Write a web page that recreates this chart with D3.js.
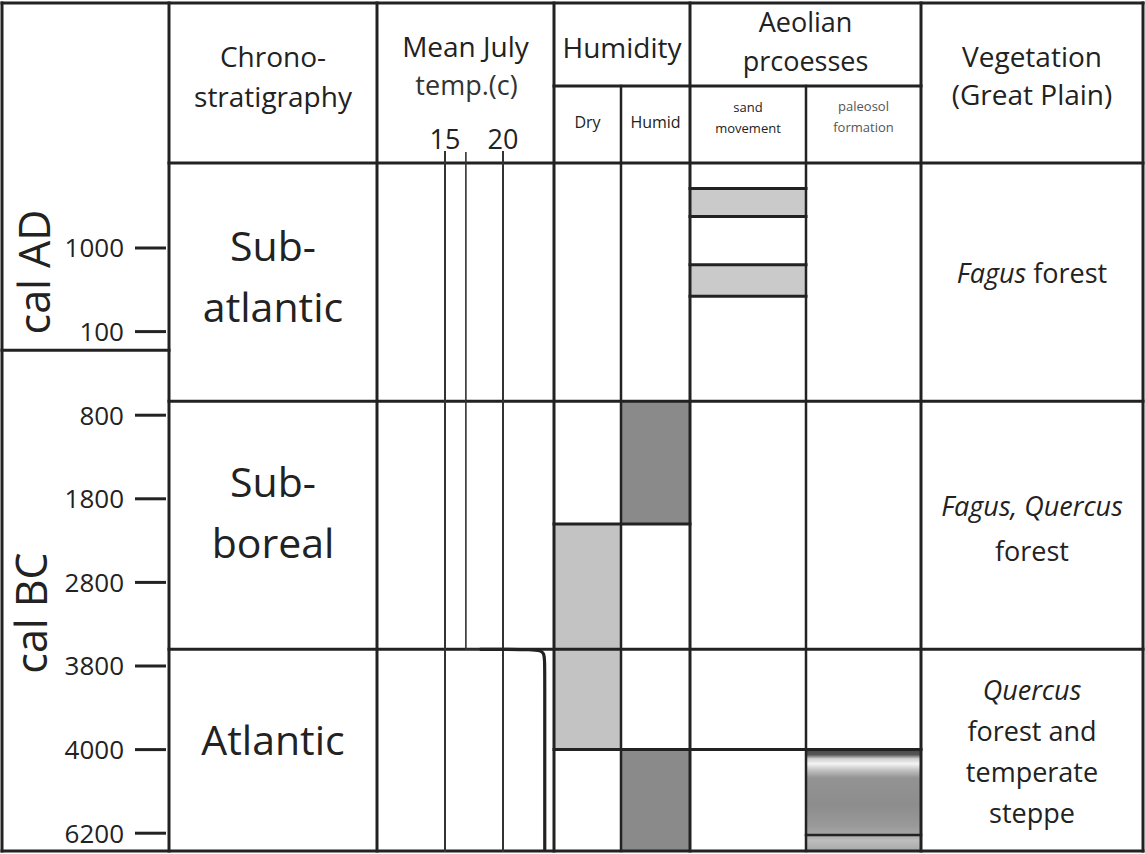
<!DOCTYPE html>
<html><head><meta charset="utf-8">
<script src="https://cdn.jsdelivr.net/npm/d3@7"></script>
<style>
body{margin:0;background:#fff}
svg{display:block}
text{font-family:"Open Sans","Noto Sans",sans-serif;fill:#222}
</style>
</head><body>
<svg id="c" width="1145" height="854"></svg>
<script>
// ---------------- data ----------------
const tickLabels = ["1000","100","800","1800","2800","3800","4000","6200"];
const tickYears  = [1000, 100, -800, -1800, -2800, -3800, -4000, -6200];   // AD positive, BC negative
const eras = [
  {label:"cal AD", from:1920, to:-100},
  {label:"cal BC", from:-100, to:-6660}
];
const periods = [
  {lines:["Sub-","atlantic"], from:1920,  to:-650},
  {lines:["Sub-","boreal"],   from:-650,  to:-3600},
  {lines:["Atlantic"],        from:-3600, to:-6660}
];
const dryIntervals   = [{from:-2100, to:-4000}];
const humidIntervals = [{from:-650, to:-2100}, {from:-4000, to:-6660}];
const sandMovement   = [{from:1640, to:1340}, {from:820, to:480}];
const paleosolFormation = [{from:-4000, to:-6660}];
const paleosolBreaks = [-6250];
const tempTicks = [15, 20];
const julyTempEarly = [{year:1920,t:16.8},{year:-3600,t:16.8},{year:-3600,t:18.0}];
const julyTempLate  = [{year:-3600,t:18.0},{year:-3600,t:22.9},{year:-3630,t:23.6},{year:-3800,t:23.6},{year:-6660,t:23.6}];
const vegetation = [
  {from:1920,  to:-650,  lines:[[{t:"Fagus",i:true},{t:" forest"}]]},
  {from:-650,  to:-3600, lines:[[{t:"Fagus, Quercus",i:true}],[{t:"forest"}]]},
  {from:-3600, to:-6660, lines:[[{t:"Quercus",i:true}],[{t:"forest and"}],[{t:"temperate"}],[{t:"steppe"}]]}
];

// ---------------- layout ----------------
const L = {x0:2, xAxis:169, xChrono:377, xTemp:554, xDry:621, xHum:690, xSand:806, xAeo:921, x1:1143,
           y0:3, ySub:86, yHead:163, y1:851};
const firstTick = 248, step = 83.6;
const INK = "#222";
const periodDy = [10, 2, 5], vegDy = [1, 13, 12];

const svg = d3.select("#c");
const y = d3.scaleLinear().domain(tickYears).range(tickYears.map((d,i)=>firstTick + i*step));
const xT = d3.scaleLinear().domain([15,20]).range([445,503]);

const defs = svg.append("defs");
const g = defs.append("linearGradient").attr("id","paleo").attr("x1",0).attr("x2",0).attr("y1",0).attr("y2",1);
[[0,"#4a4a4a"],[0.05,"#555"],[0.09,"#cfcfcf"],[0.14,"#f4f4f4"],[0.2,"#c4c4c4"],[0.28,"#939393"],
 [0.55,"#8d8d8d"],[0.75,"#999"],[0.83,"#a4a4a4"],[0.9,"#bdbdbd"],[1,"#a8a8a8"]]
 .forEach(([o,c])=>g.append("stop").attr("offset",o).attr("stop-color",c));

// ---------------- fills ----------------
const fills = svg.append("g");
fills.selectAll(".dry").data(dryIntervals).join("rect")
  .attr("x",L.xTemp).attr("width",L.xDry-L.xTemp)
  .attr("y",d=>y(d.from)).attr("height",d=>y(d.to)-y(d.from)).attr("fill","#c3c3c3");
fills.selectAll(".hum").data(humidIntervals).join("rect")
  .attr("x",L.xDry).attr("width",L.xHum-L.xDry)
  .attr("y",d=>y(d.from)).attr("height",d=>y(d.to)-y(d.from)).attr("fill","#8a8a8a");
fills.selectAll(".sand").data(sandMovement).join("rect")
  .attr("x",L.xHum).attr("width",L.xSand-L.xHum)
  .attr("y",d=>y(d.from)).attr("height",d=>y(d.to)-y(d.from)).attr("fill","#cacaca");
fills.selectAll(".paleo").data(paleosolFormation).join("rect")
  .attr("x",L.xSand).attr("width",L.xAeo-L.xSand)
  .attr("y",d=>y(d.from)).attr("height",d=>y(d.to)-y(d.from)).attr("fill","url(#paleo)");

// ---------------- grid lines ----------------
const lines = svg.append("g").attr("stroke",INK).attr("stroke-width",3).attr("stroke-linecap","square");
function hl(yy,xa,xb,w){lines.append("line").attr("x1",xa).attr("x2",xb).attr("y1",yy).attr("y2",yy).attr("stroke-width",w||3);}
function vl(xx,ya,yb,w){lines.append("line").attr("x1",xx).attr("x2",xx).attr("y1",ya).attr("y2",yb).attr("stroke-width",w||3);}
hl(L.y0,L.x0,L.x1); hl(L.y1,L.x0,L.x1);
hl(L.yHead,L.xAxis,L.x1);
hl(L.ySub,L.xTemp,L.xAeo);
hl(y(eras[0].to),L.x0,L.xAxis);
periods.slice(1).forEach(p=>hl(y(p.from),L.xAxis,L.x1));
dryIntervals.forEach(d=>{hl(y(d.from),L.xTemp,L.xHum); hl(y(d.to),L.xTemp,L.xAeo);});
sandMovement.forEach(d=>{hl(y(d.from),L.xHum,L.xSand); hl(y(d.to),L.xHum,L.xSand);});
paleosolBreaks.forEach(b=>hl(y(b),L.xSand,L.xAeo,2.5));
[L.x0,L.xAxis,L.xChrono,L.xTemp,L.xHum,L.xAeo,L.x1].forEach(x=>vl(x,L.y0,L.y1));
[L.xDry,L.xSand].forEach(x=>vl(x,L.ySub,L.y1,2.5));

// temperature reference lines
tempTicks.forEach(t=>lines.append("line").attr("x1",xT(t)).attr("x2",xT(t))
  .attr("y1",L.yHead-11).attr("y2",L.y1).attr("stroke-width",2).attr("stroke","#333"));

// temperature curve
const tl = d3.line().x(d=>xT(d.t)).y(d=>y(d.year));
svg.append("path").attr("d",tl(julyTempEarly)).attr("fill","none").attr("stroke","#333").attr("stroke-width",1.6);
svg.append("path").attr("d",tl.curve(d3.curveBasis)(julyTempLate)).attr("fill","none").attr("stroke","#222").attr("stroke-width",3.2);
svg.append("line").attr("x1",xT(16.8)).attr("x2",xT(16.8)).attr("y1",L.yHead-11).attr("y2",L.yHead)
  .attr("stroke","#333").attr("stroke-width",1.6);

// ---------------- y axis ----------------
const ax = svg.append("g");
ax.selectAll("line").data(tickYears).join("line")
  .attr("x1",135).attr("x2",L.xAxis-3).attr("y1",d=>y(d)).attr("y2",d=>y(d))
  .attr("stroke",INK).attr("stroke-width",3);
ax.selectAll("text").data(tickLabels).join("text")
  .attr("x",124).attr("y",(d,i)=>y(tickYears[i])).attr("dy","0.36em")
  .attr("text-anchor","end").attr("font-size",26).text(d=>d);
svg.append("text").attr("transform",`translate(50,272) rotate(-90)`).attr("text-anchor","middle")
  .attr("font-size",43).text(eras[0].label);
svg.append("text").attr("transform",`translate(47,613) rotate(-90)`).attr("text-anchor","middle")
  .attr("font-size",43).text(eras[1].label);

// ---------------- text helpers ----------------
function block(x, baseline, arr, size, lh, color){
  const t = svg.append("text").attr("text-anchor","middle").attr("font-size",size);
  if(color) t.style("fill",color);
  arr.forEach((s,i)=>t.append("tspan").attr("x",x).attr("y",baseline+i*lh).text(s));
  return t;
}

// headers
block((L.xAxis+L.xChrono)/2, 67, ["Chrono-","stratigraphy"], 28, 40);
block((L.xChrono+L.xTemp)/2, 57, ["Mean July"], 28, 38);
block((L.xChrono+L.xTemp)/2+1, 95, ["temp.(c)"], 27, 38, "#333");
tempTicks.forEach(t=>svg.append("text").attr("x",xT(t)).attr("y",149).attr("text-anchor","middle")
  .attr("font-size",27).text(t));
block((L.xTemp+L.xHum)/2, 58, ["Humidity"], 28, 38);
block((L.xTemp+L.xDry)/2, 128, ["Dry"], 16, 20);
block((L.xDry+L.xHum)/2, 128, ["Humid"], 16, 20);
block((L.xHum+L.xAeo)/2, 32, ["Aeolian","prcoesses"], 27, 39);
block((L.xHum+L.xSand)/2, 112, ["sand","movement"], 13, 21);
block((L.xSand+L.xAeo)/2, 111, ["paleosol","formation"], 13, 21, "#555");
block((L.xAeo+L.x1)/2, 67, ["Vegetation"], 28, 36);
block((L.xAeo+L.x1)/2, 105, ["(Great Plain)"], 28, 36);

// period labels
periods.forEach((p,k)=>{
  const lh=61, cy=(y(p.from)+y(p.to))/2;
  const b0 = cy - (p.lines.length-1)*lh/2 + periodDy[k];
  block((L.xAxis+L.xChrono)/2, b0, p.lines, 41, lh);
});

// vegetation
vegetation.forEach((v,k)=>{
  const lh = v.lines.length>2 ? 41 : 45;
  const cy=(y(v.from)+y(v.to))/2;
  const b0 = cy - (v.lines.length-1)*lh/2 + vegDy[k];
  const t = svg.append("text").attr("text-anchor","middle").attr("font-size",27);
  v.lines.forEach((ln,i)=>{
    ln.forEach((seg,j)=>{
      const ts=t.append("tspan").text(seg.t).attr("font-style",seg.i?"italic":"normal");
      if(j===0) ts.attr("x",(L.xAeo+L.x1)/2).attr("y",b0+i*lh);
    });
  });
});
</script>
</body></html>
